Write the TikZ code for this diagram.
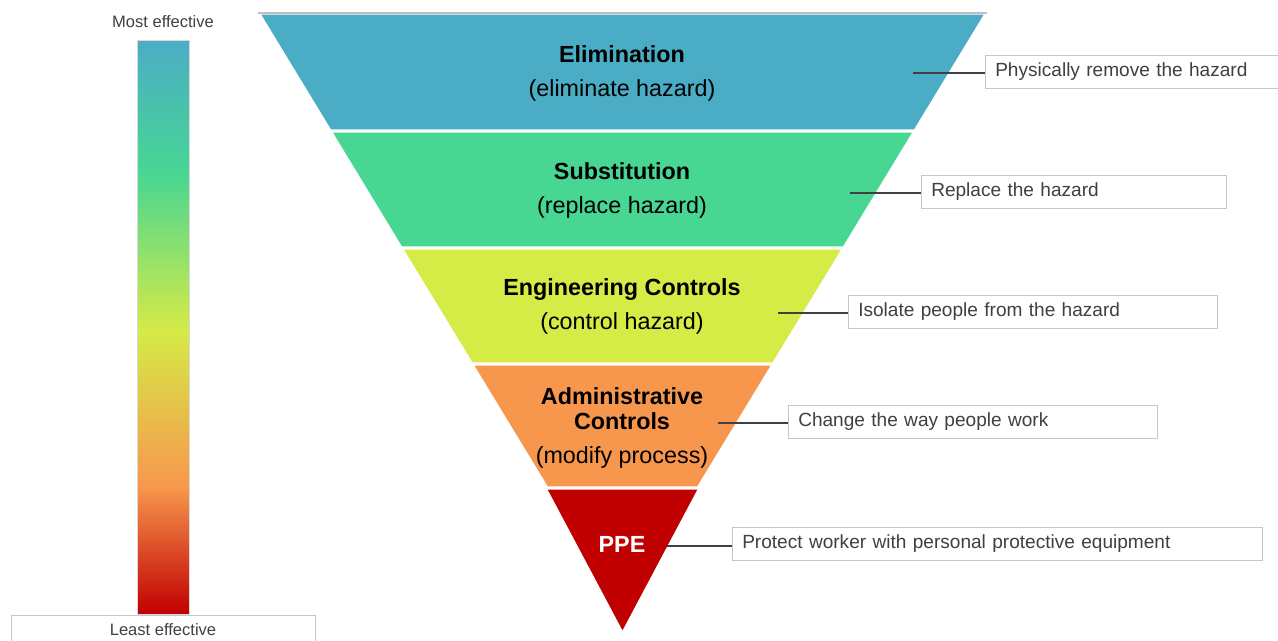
\documentclass[tikz,border=0pt]{standalone}
\usepackage{fontspec}
\setmainfont{Liberation Sans}
\usepackage{tikz}
\definecolor{elimcol}{RGB}{75,173,197}
\definecolor{subscol}{RGB}{72,214,147}
\definecolor{engcol}{RGB}{213,235,70}
\definecolor{admincol}{RGB}{247,151,77}
\definecolor{ppecol}{RGB}{192,0,0}
\definecolor{txtgrey}{RGB}{64,64,64}
\tikzset{
    band/.style={draw=white, line width=1pt, line join=miter}
}
\tikzset{
    bandtitle/.style={font=\fontsize{17.5}{18.75}\selectfont\bfseries, align=center,
    	inner sep=0pt, anchor=base},
    bandnote/.style={font=\fontsize{17.5}{21}\selectfont, inner sep=0pt, anchor=base}
}
\tikzset{
    callout/.style={draw=black!22, fill=white, anchor=west, align=left,
    	font=\fontsize{14.3}{17}\selectfont, text=txtgrey, inner xsep=7.5pt,
    	minimum height=24.75pt},
    leader/.style={draw=txtgrey, line width=1.1pt},
    scalelabel/.style={font=\fontsize{12.4}{15}\selectfont, text=txtgrey}
}

\begin{document}
\begin{tikzpicture}[x=0.75pt, y=-0.75pt]
	\useasboundingbox (0,0) rectangle (1278,640);
	% effectiveness bar
	\shade[top color=elimcol, bottom color=subscol] (137,40) rectangle (189,173.5);
	\shade[top color=subscol, bottom color=engcol] (137,173) rectangle (189,330.5);
	\shade[top color=engcol, bottom color=admincol] (137,330) rectangle (189,487.5);
	\shade[top color=admincol, bottom color=ppecol] (137,487) rectangle (189,614);
	\draw[black!15, line width=0.4pt] (137,40) rectangle (189,614);
	\node (most) [scalelabel] at (163,22) {Most effective};
	\node (least) [scalelabel, draw=black!22, minimum width=228pt,
		minimum height=22.5pt] at (163,630) {Least effective};

	% hierarchy bands
	\fill[band, fill=elimcol] (260,14) -- (985,14) -- (914.5,130) -- (330.5,130) -- cycle;
	\fill[band, fill=subscol] (331.7,132) -- (913.3,132) -- (843.5,247) -- (401.5,247) -- cycle;
	\fill[band, fill=engcol] (402.7,249) -- (842.3,249) -- (773,363) -- (472,363) -- cycle;
	\fill[band, fill=admincol] (473.2,365) -- (771.8,365) -- (697.7,487) -- (547.3,487) -- cycle;
	\fill[band, fill=ppecol] (546.5,489) -- (698.5,489) -- (622.5,632) -- cycle;
	\draw[black!25, line width=0.8pt] (258,13) -- (987,13);

	\node (elim) [bandtitle] at (622,62.4) {Elimination};
	\node (elimnote) [bandnote] at (622,96.4) {(eliminate hazard)};
	\node (subs) [bandtitle] at (622,179.4) {Substitution};
	\node (subsnote) [bandnote] at (622,213.4) {(replace hazard)};
	\node (eng) [bandtitle] at (622,295.4) {Engineering Controls};
	\node (engnote) [bandnote] at (622,329.4) {(control hazard)};
	\node (admin) [bandtitle] at (622,429.4) {Administrative\\Controls};
	\node (adminnote) [bandnote] at (622,463.4) {(modify process)};
	\node (ppe) [bandtitle, text=white] at (622,552.4) {PPE};

	% callouts
	\coordinate (p1) at (913,73);
	\coordinate (p2) at (850,193);
	\coordinate (p3) at (778,313);
	\coordinate (p4) at (718,423);
	\coordinate (p5) at (667,546);
	\node (c1) [callout, text width=204.75pt] at (985,71.5) {Physically remove the hazard};
	\node (c2) [callout, text width=213.75pt] at (921,191.5) {Replace the hazard};
	\node (c3) [callout, text width=261.75pt] at (848,311.5) {Isolate people from the hazard};
	\node (c4) [callout, text width=261.75pt] at (788,421.5) {Change the way people work};
	\node (c5) [callout, text width=382.5pt] at (732,543.5) {Protect worker with personal protective equipment};
	\draw[leader] (p1) -- (p1 -| c1.west);
	\draw[leader] (p2) -- (p2 -| c2.west);
	\draw[leader] (p3) -- (p3 -| c3.west);
	\draw[leader] (p4) -- (p4 -| c4.west);
	\draw[leader] (p5) -- (p5 -| c5.west);
\end{tikzpicture}
\end{document}
